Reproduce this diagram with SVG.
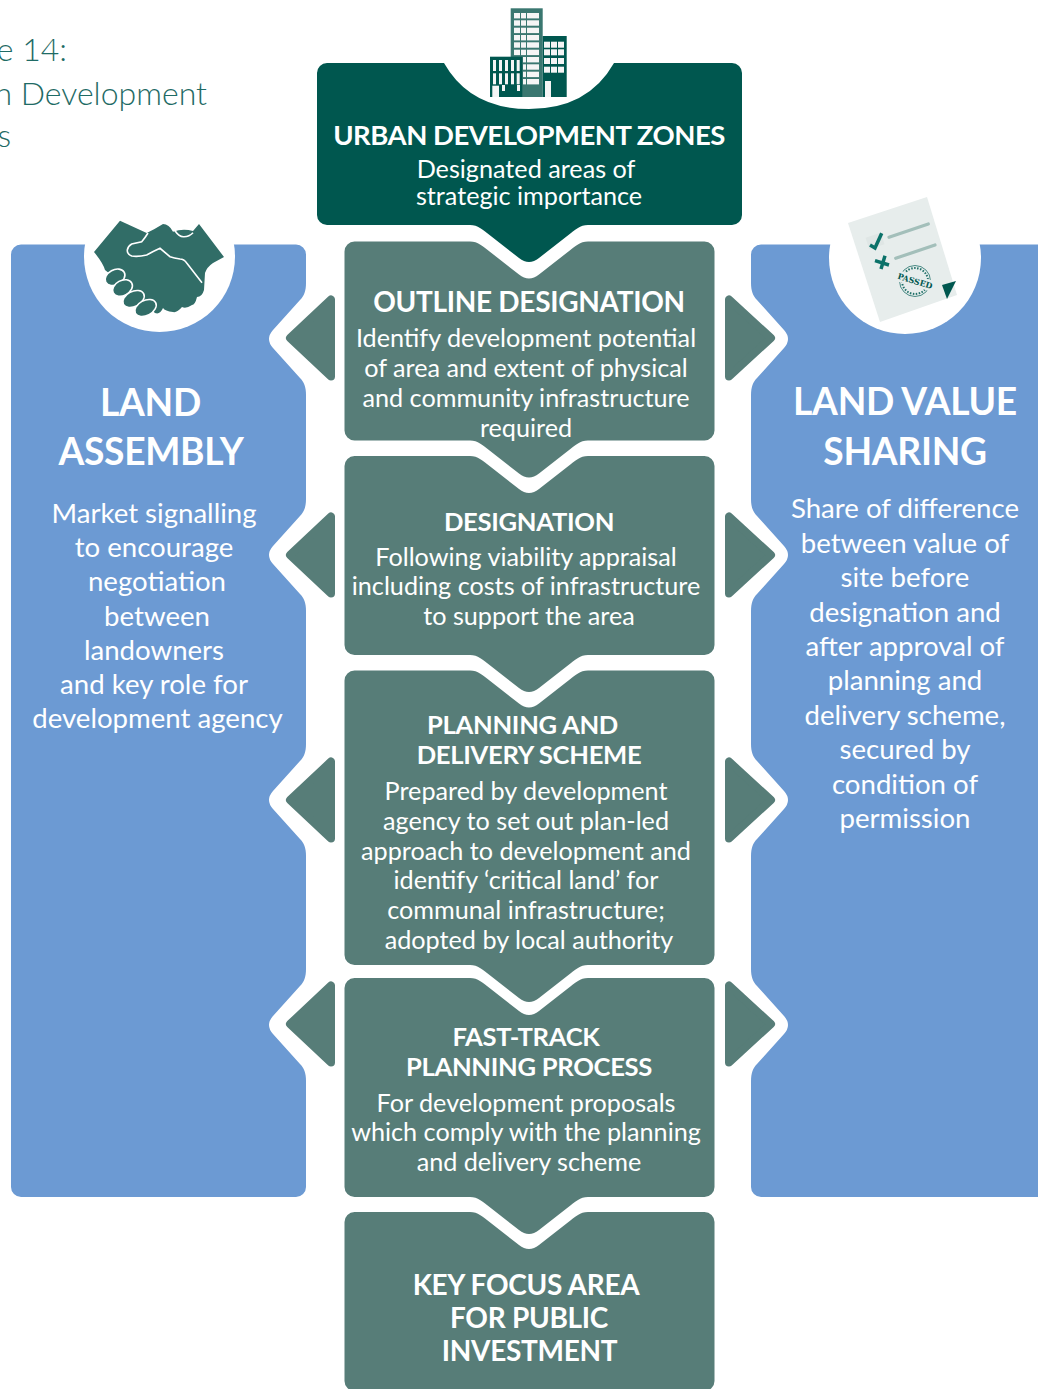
<svg xmlns="http://www.w3.org/2000/svg" width="1038" height="1389" viewBox="0 0 1038 1389">
<style>
text{font-family:Lato,"Noto Sans","Liberation Sans",sans-serif;fill:#fff;text-anchor:middle}
.cap{font-weight:300;font-size:32px;fill:#1f6b65;text-anchor:end}
.h0{font-weight:700;font-size:27.500px;letter-spacing:-.5px}
.h1{font-weight:700;font-size:28px;letter-spacing:-.3px}
.h2{font-weight:700;font-size:25.600px;letter-spacing:-.3px}
.h3{font-weight:700;font-size:28px;letter-spacing:-.3px}
.h4{font-weight:700;font-size:37.200px;letter-spacing:-.3px}
.b{font-size:25.200px}
.s{font-size:27.600px}
.box{fill:#577d78}
.panel{fill:#6c9ad3}
.arrow{fill:#577d78;stroke:#577d78;stroke-width:8;stroke-linejoin:round}
.bw{fill:#f5f5f5}
.ic{fill:#316d67}
</style>
<defs>
<polygon id="al" class="arrow" points="290,0 331,-38.5 331,38.5"/>
<polygon id="ar" class="arrow" points="771,0 729,-38.5 729,38.5"/>
</defs>

<g id="caption">
<text class="cap" x="67" y="61">e 14:</text>
<text class="cap" x="207" y="104.500">n Development</text>
<text class="cap" x="11" y="147">s</text>
</g>

<g id="land-assembly">
<path class="panel" d="M21 244.5H296a10 10 0 0 1 10 10V283c0 8-2 13-6 17l-27 30q-8 9 0 18l27 30c4 4 6 9 6 17V499c0 8-2 13-6 17l-27 30q-8 9 0 18l27 30c4 4 6 9 6 17V744c0 8-2 13-6 17l-27 30q-8 9 0 18l27 30c4 4 6 9 6 17V969c0 8-2 13-6 17l-27 30q-8 9 0 18l27 30c4 4 6 9 6 17V1187a10 10 0 0 1-10 10H21a10 10 0 0 1-10-10V254.5a10 10 0 0 1 10-10z"/>
<circle cx="159.5" cy="256.5" r="75.5" fill="#fff"/>
<path class="ic" d="M120 220.700L146.700 233Q155 229 163 224Q169 224 173 231.700Q183 228 193 231L199 224L224 257L213 263Q207 267 205 273L204 290Q202 297 197 297Q195 305 192 305Q186 309 182 307Q177 313 173 312Q165 311 163 308Q160 315 155 313L130 290L105 270Q103 263 94 252Z"/>
<path d="M202 282.700L186.700 263Q184 259 180 259Q174 258 170 256.700L160 248.300Q154 251 146.700 255Q138 257 131.700 256Q127 254 127.300 250Q128 246 131.700 244L141.700 241.700Q145 238 148 233M175 230.700Q179 236.700 183.300 236.700Q189 237 193 232.700" fill="none" stroke="#fff" stroke-width="1.600"/>
<g class="ic" stroke="#fff" stroke-width="1.600">
<ellipse cx="115" cy="277.300" rx="10.500" ry="7.500" transform="rotate(-28 115 277.300)"/>
<ellipse cx="122.500" cy="288" rx="10.500" ry="7.500" transform="rotate(-28 122.500 288)"/>
<ellipse cx="133.500" cy="299" rx="11.500" ry="7.500" transform="rotate(-28 133.500 299)"/>
<ellipse cx="145.500" cy="308" rx="11.500" ry="7.500" transform="rotate(-28 145.500 308)"/>
</g>
<text class="h4" x="150.500" y="415.500">LAND</text>
<text class="h4" x="151" y="465">ASSEMBLY</text>
<text class="s" x="154" y="522.500">Market signalling</text>
<text class="s" x="154" y="556.500">to encourage</text>
<text class="s" x="157" y="590.500">negotiation</text>
<text class="s" x="157" y="625.500">between</text>
<text class="s" x="154" y="659.500">landowners</text>
<text class="s" x="154" y="694">and key role for</text>
<text class="s" x="157.500" y="728">development agency</text>
</g>

<g id="land-value-sharing">
<path class="panel" d="M761 244.500H1040V1197H761a10 10 0 0 1-10-10V1081c0-8 2-13 6-17l27-30q8-9 0-18l-27-30c-4-4-6-9-6-17V856c0-8 2-13 6-17l27-30q8-9 0-18l-27-30c-4-4-6-9-6-17V611c0-8 2-13 6-17l27-30q8-9 0-18l-27-30c-4-4-6-9-6-17V395c0-8 2-13 6-17l27-30q8-9 0-18l-27-30c-4-4-6-9-6-17V254.500a10 10 0 0 1 10-10z"/>
<circle cx="905" cy="258" r="76" fill="#fff"/>
<polygon points="848,223 927,197 957,295 880,322" fill="#e7edec"/>
<rect x="867" y="235" width="16" height="12" fill="#dfe6e5" transform="rotate(-18 875 241)"/>
<path d="M870 245L875 248L881.700 233.300" fill="none" stroke="#0b7269" stroke-width="3.500"/>
<path d="M889 237.300L928.300 224M895.700 258.300L935 245" fill="none" stroke="#a3bfba" stroke-width="3.200" stroke-linecap="round"/>
<path d="M881 269L885 255.700M875 260.700L889 265" fill="none" stroke="#0b7269" stroke-width="3.500"/>
<circle cx="915" cy="281" r="15.500" fill="none" stroke="#1f7068" stroke-width=".8"/>
<circle cx="915" cy="281" r="13" fill="none" stroke="#1f7068" stroke-width="2" stroke-dasharray="1.500 1.500"/>
<rect x="896" y="275.500" width="38" height="11" fill="#e7edec" transform="rotate(17 915 281)"/>
<text x="915" y="284" transform="rotate(17 915 281)" style="font-family:'DejaVu Serif',serif;font-weight:700;font-size:8px;fill:#00574f">PASSED</text>
<polygon points="942,285 956,281 947,299" fill="#00574f"/>
<text class="h4" x="905" y="415">LAND VALUE</text>
<text class="h4" x="905" y="465">SHARING</text>
<text class="s" x="905" y="517.500">Share of difference</text>
<text class="s" x="905" y="552.500">between value of</text>
<text class="s" x="905" y="586.500">site before</text>
<text class="s" x="905" y="621.500">designation and</text>
<text class="s" x="905" y="655.500">after approval of</text>
<text class="s" x="905" y="689.500">planning and</text>
<text class="s" x="905" y="724.500">delivery scheme,</text>
<text class="s" x="905" y="758.500">secured by</text>
<text class="s" x="905" y="793.500">condition of</text>
<text class="s" x="905" y="827.500">permission</text>
</g>

<g id="connectors">
<use href="#al" y="338"/>
<use href="#al" y="555"/>
<use href="#al" y="800"/>
<use href="#al" y="1024"/>
<use href="#ar" y="338"/>
<use href="#ar" y="555"/>
<use href="#ar" y="800"/>
<use href="#ar" y="1024"/>
</g>

<g id="urban-development-zones">
<path fill="#00574f" d="M327 63H444Q470 109 529 109Q588 109 614 63H732a10 10 0 0 1 10 10V215a10 10 0 0 1-10 10H588c-8 0-13 5-17 8l-32 25q-10 8-20 0l-32-25c-4-3-9-8-17-8H327a10 10 0 0 1-10-10V73a10 10 0 0 1 10-10z"/>
<g id="buildings">
<rect x="510.700" y="8.300" width="32" height="88.700" fill="#3a7770"/>
<g class="bw">
<rect x="514" y="13" width="6" height="5.400"/><rect x="521" y="13" width="5" height="5.400"/><rect x="527" y="13" width="12" height="5.400"/>
<rect x="514" y="20.300" width="6" height="5.400"/><rect x="521" y="20.300" width="5" height="5.400"/><rect x="527" y="20.300" width="12" height="5.400"/>
<rect x="514" y="27.700" width="6" height="5.400"/><rect x="521" y="27.700" width="5" height="5.400"/><rect x="527" y="27.700" width="12" height="5.400"/>
<rect x="514" y="35" width="6" height="5.400"/><rect x="521" y="35" width="5" height="5.400"/><rect x="527" y="35" width="12" height="5.400"/>
<rect x="514" y="42.300" width="6" height="5.400"/><rect x="521" y="42.300" width="5" height="5.400"/><rect x="527" y="42.300" width="12" height="5.400"/>
<rect x="514" y="49.700" width="6" height="5.400"/><rect x="521" y="49.700" width="5" height="5.400"/><rect x="527" y="49.700" width="12" height="5.400"/>
<rect x="523" y="57" width="3" height="5.400"/><rect x="527" y="57" width="12" height="5.400"/>
<rect x="523" y="64.300" width="3" height="5.400"/><rect x="527" y="64.300" width="12" height="5.400"/>
<rect x="523" y="71.700" width="3" height="5.400"/><rect x="527" y="71.700" width="12" height="5.400"/>
<rect x="523" y="79" width="3" height="5.400"/><rect x="527" y="79" width="12" height="5.400"/>
</g>
<rect x="542.700" y="36" width="24" height="61" fill="#00574f"/>
<g class="bw">
<rect x="544" y="41.700" width="6" height="6"/><rect x="551" y="41.700" width="6" height="6"/><rect x="558" y="41.700" width="6" height="6"/>
<rect x="544" y="49.300" width="6" height="6"/><rect x="551" y="49.300" width="6" height="6"/><rect x="558" y="49.300" width="6" height="6"/>
<rect x="544" y="58" width="6" height="6"/><rect x="551" y="58" width="6" height="6"/><rect x="558" y="58" width="6" height="6"/>
<rect x="544" y="66.700" width="6" height="6"/><rect x="551" y="66.700" width="6" height="6"/><rect x="558" y="66.700" width="6" height="6"/>
<rect x="545" y="81" width="6" height="16"/>
</g>
<rect x="490" y="56.700" width="32.300" height="40.300" fill="#00574f"/>
<g class="bw">
<rect x="493" y="60" width="3" height="11"/><rect x="499" y="60" width="3" height="11"/><rect x="505" y="60" width="3" height="11"/><rect x="511" y="60" width="3" height="11"/><rect x="516.700" y="60" width="3" height="11"/>
<rect x="493" y="73.300" width="3" height="11"/><rect x="499" y="73.300" width="3" height="11"/><rect x="505" y="73.300" width="3" height="11"/><rect x="511" y="73.300" width="3" height="11"/><rect x="516.700" y="73.300" width="3" height="11"/>
<rect x="492.300" y="85.700" width="6.700" height="11.300"/><rect x="502" y="85" width="3" height="6"/><rect x="517" y="85" width="3" height="6"/>
</g>
</g>
<text class="h0" x="529" y="145">URBAN DEVELOPMENT ZONES</text>
<text class="b" x="526" y="178">Designated areas of</text>
<text class="b" x="529" y="205">strategic importance</text>
</g>

<g id="outline-designation">
<path class="box" d="M354.500 241.500h115.500c8 0 13 5 17 8l32 25q10 8 20 0l32-25c4-3 9-8 17-8h116.500a10 10 0 0 1 10 10V430.500a10 10 0 0 1-10 10H588c-8 0-13 5-17 8l-32 25q-10 8-20 0l-32-25c-4-3-9-8-17-8H354.500a10 10 0 0 1-10-10V251.500a10 10 0 0 1 10-10z"/>
<text class="h1" x="529" y="311.500">OUTLINE DESIGNATION</text>
<text class="b" x="526" y="347">Identify development potential</text>
<text class="b" x="526" y="377">of area and extent of physical</text>
<text class="b" x="526" y="407">and community infrastructure</text>
<text class="b" x="526" y="437">required</text>
</g>

<g id="designation">
<path class="box" d="M354.500 456h115.500c8 0 13 5 17 8l32 25q10 8 20 0l32-25c4-3 9-8 17-8h116.500a10 10 0 0 1 10 10V645a10 10 0 0 1-10 10H588c-8 0-13 5-17 8l-32 25q-10 8-20 0l-32-25c-4-3-9-8-17-8H354.500a10 10 0 0 1-10-10V466a10 10 0 0 1 10-10z"/>
<text class="h2" x="529" y="530.500">DESIGNATION</text>
<text class="b" x="526" y="566">Following viability appraisal</text>
<text class="b" x="526" y="595">including costs of infrastructure</text>
<text class="b" x="529" y="625">to support the area</text>
</g>

<g id="planning-and-delivery-scheme">
<path class="box" d="M354.500 670.500h115.500c8 0 13 5 17 8l32 25q10 8 20 0l32-25c4-3 9-8 17-8h116.500a10 10 0 0 1 10 10V955a10 10 0 0 1-10 10H588c-8 0-13 5-17 8l-32 25q-10 8-20 0l-32-25c-4-3-9-8-17-8H354.500a10 10 0 0 1-10-10V680.500a10 10 0 0 1 10-10z"/>
<text class="h2" x="522.500" y="734">PLANNING AND</text>
<text class="h2" x="529" y="764">DELIVERY SCHEME</text>
<text class="b" x="526" y="800">Prepared by development</text>
<text class="b" x="526" y="830">agency to set out plan-led</text>
<text class="b" x="526" y="860">approach to development and</text>
<text class="b" x="526" y="889">identify ‘critical land’ for</text>
<text class="b" x="526" y="919">communal infrastructure;</text>
<text class="b" x="529" y="949">adopted by local authority</text>
</g>

<g id="fast-track-planning-process">
<path class="box" d="M354.500 978h115.500c8 0 13 5 17 8l32 25q10 8 20 0l32-25c4-3 9-8 17-8h116.500a10 10 0 0 1 10 10V1187a10 10 0 0 1-10 10H588c-8 0-13 5-17 8l-32 25q-10 8-20 0l-32-25c-4-3-9-8-17-8H354.500a10 10 0 0 1-10-10V988a10 10 0 0 1 10-10z"/>
<text class="h2" x="526" y="1046">FAST-TRACK</text>
<text class="h2" x="529" y="1076">PLANNING PROCESS</text>
<text class="b" x="526" y="1112">For development proposals</text>
<text class="b" x="526" y="1141">which comply with the planning</text>
<text class="b" x="529" y="1171">and delivery scheme</text>
</g>

<g id="key-focus-area">
<path class="box" d="M354.500 1212h115.500c8 0 13 5 17 8l32 25q10 8 20 0l32-25c4-3 9-8 17-8h116.500a10 10 0 0 1 10 10V1381a10 10 0 0 1-10 10H354.500a10 10 0 0 1-10-10V1222a10 10 0 0 1 10-10z"/>
<text class="h3" x="526" y="1295">KEY FOCUS AREA</text>
<text class="h3" x="529" y="1328">FOR PUBLIC</text>
<text class="h3" x="529.500" y="1361">INVESTMENT</text>
</g>
</svg>
